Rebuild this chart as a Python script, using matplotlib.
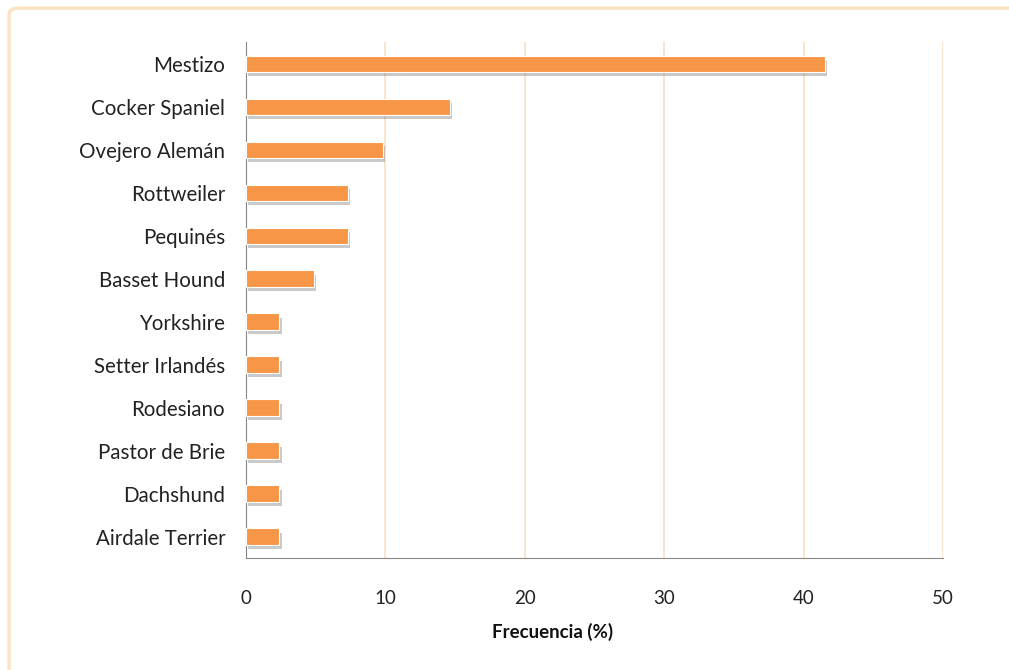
import matplotlib.pyplot as plt
import matplotlib.patheffects as pe
from matplotlib.patches import FancyBboxPatch

# razas de perros y su frecuencia (%)
razas = ["Mestizo", "Cocker Spaniel", "Ovejero Alemán", "Rottweiler", "Pequinés",
         "Basset Hound", "Yorkshire", "Setter Irlandés", "Rodesiano",
         "Pastor de Brie", "Dachshund", "Airdale Terrier"]
frecuencia = [41.5, 14.6, 9.8, 7.3, 7.3, 4.9, 2.4, 2.4, 2.4, 2.4, 2.4, 2.4]
ticks_x = [0, 10, 20, 30, 40, 50]

plt.rcParams['font.family'] = ['Lato', 'DejaVu Sans']

fig = plt.figure(figsize=(10.09, 6.70), dpi=100)
fig.patch.set_facecolor("white")

# marco exterior
marco = FancyBboxPatch((0.009, -0.02), 1.02, 1.008, boxstyle="round,pad=0,rounding_size=0.01",
                       transform=fig.transFigure, facecolor="none",
                       edgecolor="#fbe3c4", linewidth=2.5, zorder=-1)
fig.patches.append(marco)

ax = fig.add_axes([0.2438, 0.167, 0.6908, 0.770])
ax.set_facecolor("none")

pos = list(range(len(razas)))
barras = ax.barh(pos, frecuencia, height=0.38, color="#f79646",
                 edgecolor="white", linewidth=0.8, zorder=3)
for b in barras:
    b.set_path_effects([pe.SimplePatchShadow(offset=(1.5, -3), shadow_rgbFace="#666666", alpha=0.35),
                        pe.Normal()])

ax.set_ylim(len(razas) - 0.5, -0.5)
ax.set_yticks(pos)
ax.set_yticklabels(razas, fontsize=14.8, color="#222222")
ax.set_xlim(0, 50)
ax.set_xticks(ticks_x)
ax.set_xticklabels([str(t) for t in ticks_x], fontsize=13.5, color="#222222")
ax.tick_params(axis="y", length=0, pad=15)
ax.tick_params(axis="x", length=0, pad=23)

for t in ticks_x[1:]:
    ax.axvline(t, color="#f9dcc0", linewidth=1.1, zorder=1)

for s in ["top", "right"]:
    ax.spines[s].set_visible(False)
ax.spines["left"].set_color("#888888")
ax.spines["bottom"].set_color("#888888")

fig.text(0.548, 0.057, "Frecuencia (%)", fontsize=13.5, fontweight="bold",
         ha="center", va="center", color="#111111")

fig.savefig("out.png", dpi=100)
